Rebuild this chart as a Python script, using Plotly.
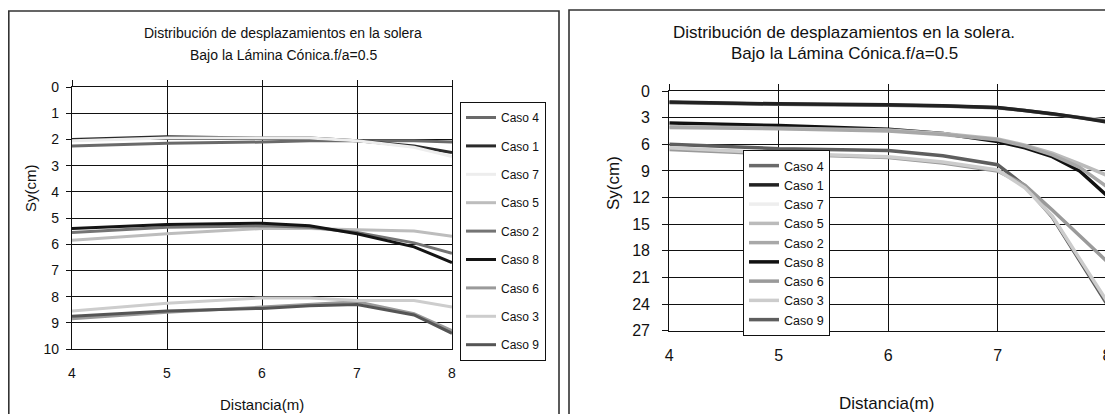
import plotly.graph_objects as go

# page offset compensation (browser body margin)
OX, OY = 8, 8
W, H = 1113 - OX, 414 - OY


def px(x):
    return (x - OX) / W


def py(y):
    return 1 - (y - OY) / H


# ---------------- data ----------------
cases = ["Caso 4", "Caso 1", "Caso 7", "Caso 5", "Caso 2", "Caso 8", "Caso 6", "Caso 3", "Caso 9"]

x_left = [4, 5, 6, 6.5, 7, 7.6, 8]
left_caso4 = [2.25, 2.15, 2.1, 2.05, 2.05, 2.05, 2.1]
left_caso1 = [2.0, 1.9, 1.95, 1.95, 2.05, 2.25, 2.5]
left_caso7 = [2.05, 1.95, 1.95, 1.95, 2.05, 2.3, 2.65]
left_caso5 = [5.85, 5.6, 5.4, 5.4, 5.45, 5.5, 5.7]
left_caso2 = [5.55, 5.35, 5.3, 5.35, 5.55, 5.95, 6.35]
left_caso8 = [5.4, 5.25, 5.2, 5.3, 5.6, 6.1, 6.7]
left_caso6 = [8.85, 8.6, 8.4, 8.3, 8.2, 8.65, 9.3]
left_caso3 = [8.55, 8.25, 8.05, 8.05, 8.15, 8.15, 8.4]
left_caso9 = [8.75, 8.55, 8.45, 8.35, 8.3, 8.7, 9.4]

x_right = [4, 5, 6, 6.5, 7, 7.25, 7.5, 7.75, 8]
right_caso4 = [1.3, 1.5, 1.6, 1.7, 1.9, 2.2, 2.6, 3.0, 3.4]
right_caso1 = [1.25, 1.45, 1.55, 1.65, 1.85, 2.15, 2.55, 3.0, 3.5]
right_caso7 = [1.35, 1.5, 1.6, 1.7, 1.95, 2.2, 2.6, 3.0, 3.3]
right_caso5 = [4.0, 4.2, 4.4, 4.8, 5.4, 6.1, 7.0, 8.2, 9.5]
right_caso2 = [4.1, 4.25, 4.5, 4.9, 5.5, 6.2, 7.2, 8.6, 10.8]
right_caso8 = [3.6, 3.9, 4.3, 4.8, 5.7, 6.4, 7.4, 9.0, 11.8]
right_caso6 = [6.6, 7.1, 7.5, 8.1, 9.0, 10.6, 13.4, 16.3, 19.2]
right_caso3 = [6.4, 7.0, 7.4, 8.0, 8.9, 10.9, 14.1, 18.9, 23.7]
right_caso9 = [6.0, 6.5, 6.7, 7.3, 8.3, 10.7, 14.2, 19.1, 24.0]

left_values = [left_caso4, left_caso1, left_caso7, left_caso5, left_caso2,
               left_caso8, left_caso6, left_caso3, left_caso9]
right_values = [right_caso4, right_caso1, right_caso7, right_caso5, right_caso2,
                right_caso8, right_caso6, right_caso3, right_caso9]

left_ticks = list(range(0, 11))
right_ticks = list(range(0, 28, 3))
x_ticks = [4, 5, 6, 7, 8]

title_line1_left = "Distribución de desplazamientos en la solera"
title_line1_right = "Distribución de desplazamientos en la solera."
title_line2 = "Bajo la Lámina Cónica.f/a=0.5"
x_title = "Distancia(m)"
y_title = "Sy(cm)"

# ---------------- styles ----------------
left_colors = ["#6a6a6a", "#2a2a2a", "#ededed", "#bdbdbd", "#747474",
               "#141414", "#9a9a9a", "#cdcdcd", "#555555"]
right_colors = ["#6a6a6a", "#222222", "#eeeeee", "#bbbbbb", "#a8a8a8",
                "#111111", "#9a9a9a", "#cccccc", "#5e5e5e"]
# drawing order in the right panel (legend order kept via legendrank)
right_draw_order = ["Caso 7", "Caso 4", "Caso 1", "Caso 8", "Caso 5", "Caso 2",
                    "Caso 9", "Caso 6", "Caso 3"]
FONT = "Liberation Sans, Arial, sans-serif"

fig = go.Figure()

for rank, (name, vals, col) in enumerate(zip(cases, left_values, left_colors)):
    fig.add_trace(go.Scatter(
        x=x_left, y=vals, name=name, mode="lines",
        line=dict(color=col, width=3),
        xaxis="x", yaxis="y", legend="legend", legendgroup="L" + name,
        legendrank=rank + 1,
    ))

right_map = {n: (v, c, i) for i, (n, v, c) in enumerate(zip(cases, right_values, right_colors))}
for name in right_draw_order:
    vals, col, rank = right_map[name]
    fig.add_trace(go.Scatter(
        x=x_right, y=vals, name=name, mode="lines",
        line=dict(color=col, width=3.5),
        xaxis="x2", yaxis="y2", legend="legend2", legendgroup="R" + name,
        legendrank=rank + 1,
    ))

# empty traces so the top tick-mark axes get drawn
fig.add_trace(go.Scatter(x=[], y=[], xaxis="x3", yaxis="y", showlegend=False, hoverinfo="skip"))
fig.add_trace(go.Scatter(x=[], y=[], xaxis="x4", yaxis="y2", showlegend=False, hoverinfo="skip"))

axis_common = dict(showline=True, mirror=True, linecolor="#111", linewidth=1.2,
                   showgrid=True, gridcolor="#111", gridwidth=1.2, zeroline=False,
                   automargin=False)
top_ticks = dict(side="top", range=[4, 8], tickvals=x_ticks, ticks="outside",
                 ticklen=6, tickcolor="#111", tickwidth=1.2, showticklabels=False,
                 showgrid=False, showline=False, zeroline=False, automargin=False)

fig.update_layout(
    width=W, height=H,
    margin=dict(l=0, r=0, t=0, b=0, pad=0, autoexpand=False),
    paper_bgcolor="white", plot_bgcolor="white",
    font=dict(family=FONT, color="#111"),
    xaxis=dict(domain=[px(72), px(452)], range=[4, 8], tickvals=x_ticks,
               ticks="", ticklabelstandoff=11, tickfont=dict(size=14),
               anchor="y", **axis_common),
    yaxis=dict(domain=[py(349), py(87)], range=[10, 0], tickvals=left_ticks,
               ticks="outside", ticklen=5, tickcolor="#111", tickwidth=1.2,
               ticklabelstandoff=4, tickfont=dict(size=14),
               anchor="x", **axis_common),
    xaxis3=dict(overlaying="x", anchor="y", **top_ticks),
    xaxis2=dict(domain=[px(669.3), px(1107)], range=[4, 8], tickvals=x_ticks,
                ticks="", ticklabelstandoff=10, tickfont=dict(size=16),
                anchor="y2", **axis_common),
    yaxis2=dict(domain=[py(330.7), py(91)], range=[27, 0], tickvals=right_ticks,
                ticks="outside", ticklen=6, tickcolor="#111", tickwidth=1.2,
                ticklabelstandoff=9, tickfont=dict(size=16),
                anchor="x2", **axis_common),
    xaxis4=dict(overlaying="x2", anchor="y2", **top_ticks),
    legend=dict(x=px(460), y=py(102), xanchor="left", yanchor="top",
                bgcolor="white", bordercolor="#111", borderwidth=1,
                font=dict(size=12, family=FONT, color="#111"),
                tracegroupgap=9.4, traceorder="grouped"),
    legend2=dict(x=px(743), y=py(150), xanchor="left", yanchor="top",
                 bgcolor="white", bordercolor="#111", borderwidth=1,
                 font=dict(size=12.5, family=FONT, color="#111"),
                 tracegroupgap=0, traceorder="grouped"),
    shapes=[
        dict(type="rect", xref="paper", yref="paper",
             x0=px(8.8), x1=px(559), y0=py(11), y1=py(440),
             line=dict(color="#333", width=1.6), layer="below"),
        dict(type="rect", xref="paper", yref="paper",
             x0=px(569), x1=px(1130), y0=py(10), y1=py(440),
             line=dict(color="#333", width=1.6), layer="below"),
    ],
)

ann = []


def add_text(text, x, y, size, angle=0):
    ann.append(dict(text=text, x=px(x), y=py(y), xref="paper", yref="paper",
                    xanchor="center", yanchor="middle", showarrow=False,
                    textangle=angle, font=dict(size=size, family=FONT, color="#111")))


add_text(title_line1_left, 283, 33, 14)
add_text(title_line2, 283, 55, 14)
add_text(y_title, 30, 188, 15, -90)
add_text(x_title, 262, 404, 15)

add_text(title_line1_right, 844, 33, 17)
add_text(title_line2, 844, 53, 17)
add_text(y_title, 613, 183, 17, -90)
add_text(x_title, 886, 403, 17)

fig.update_layout(annotations=ann)

fig.write_html("out.html")
